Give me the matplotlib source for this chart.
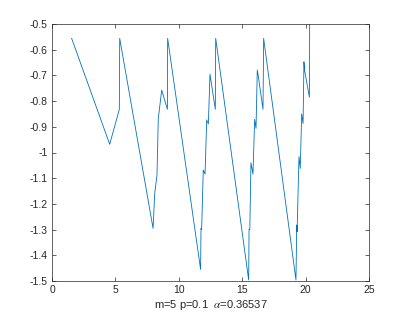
import matplotlib
matplotlib.use("Agg")
import matplotlib.pyplot as plt

# values
x = [1.55, 4.55, 5.31, 5.34, 7.97, 8.10, 8.28, 8.38, 8.65, 9.10, 9.12,
     11.72, 11.75, 11.80, 11.93, 12.07, 12.20, 12.33, 12.46, 12.52, 12.88, 12.91,
     15.51, 15.54, 15.60, 15.69, 15.85, 15.98, 16.09, 16.19, 16.26, 16.64, 16.69,
     19.24, 19.30, 19.33, 19.43, 19.48, 19.58, 19.69, 19.80, 19.87, 19.92, 20.30, 20.32]
y = [-0.556, -0.968, -0.832, -0.556, -1.295, -1.159, -1.088, -0.870, -0.757, -0.832, -0.556,
     -1.455, -1.295, -1.300, -1.068, -1.084, -0.873, -0.889, -0.695, -0.715, -0.832, -0.556,
     -1.496, -1.298, -1.300, -1.040, -1.084, -0.871, -0.906, -0.679, -0.700, -0.832, -0.556,
     -1.496, -1.282, -1.308, -1.107, -1.016, -1.062, -0.850, -0.887, -0.647, -0.680, -0.785, -0.500]

xticks = [0, 5, 10, 15, 20, 25]
yticks = [-1.5, -1.4, -1.3, -1.2, -1.1, -1.0, -0.9, -0.8, -0.7, -0.6, -0.5]
ytick_labels = ["-1.5", "-1.4", "-1.3", "-1.2", "-1.1", "-1", "-0.9", "-0.8", "-0.7", "-0.6", "-0.5"]

plt.rcParams["font.family"] = ["Liberation Sans", "DejaVu Sans"]
plt.rcParams["mathtext.fontset"] = "stix"

fig = plt.figure(figsize=(4.07, 3.18), dpi=100)
ax = fig.add_axes([52/407, 1 - 281/318, 317/407, 257/318])

ax.plot(x, y, color="#0072BD", linewidth=0.6)

ax.set_xlim(0, 25)
ax.set_ylim(-1.5, -0.5)
ax.set_xticks(xticks)
ax.set_xticklabels([str(t) for t in xticks])
ax.set_yticks(yticks)
ax.set_yticklabels(ytick_labels)

grey = "#262626"
ax.tick_params(direction="in", length=3, width=0.5, top=True, right=True,
               labelsize=7.5, colors=grey, pad=3)
for s in ax.spines.values():
    s.set_linewidth(0.5)
    s.set_color(grey)

ax.set_xlabel(r"m=5 p=0.1  $\alpha$=0.36537", fontsize=8, color=grey, labelpad=2)

fig.savefig("out.png", dpi=100)
